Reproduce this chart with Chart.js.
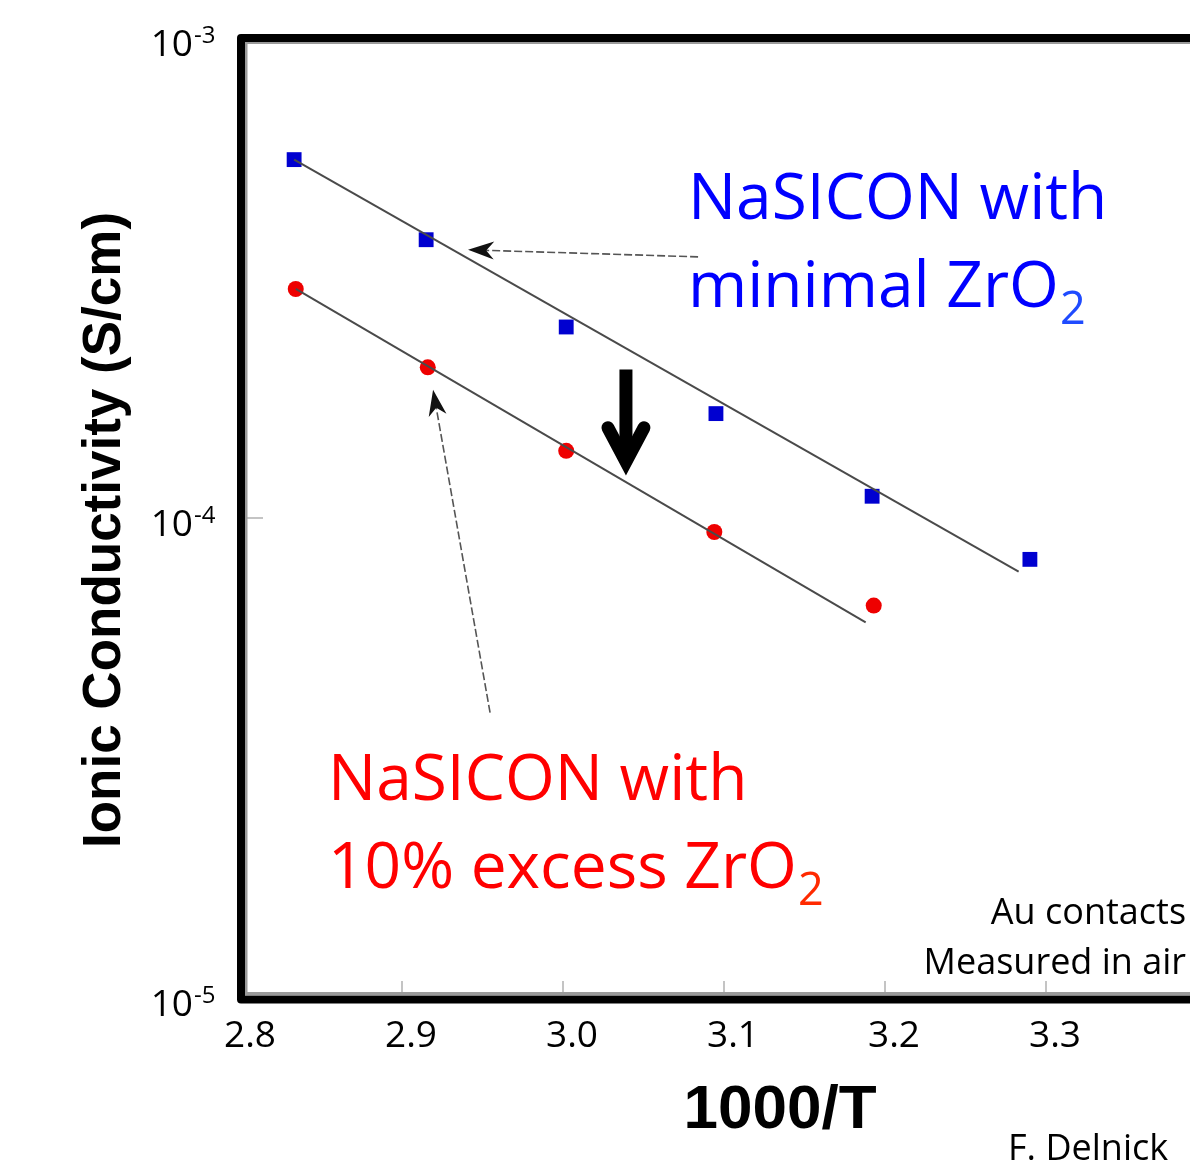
<!DOCTYPE html>
<html>
<head>
<meta charset="utf-8">
<script src="https://cdn.jsdelivr.net/npm/chart.js@4/dist/chart.umd.min.js"></script>
<style>
  html, body { margin: 0; padding: 0; background: #fff; overflow: hidden; width: 1190px; height: 1162px; }
  canvas { display: block; }
</style>
</head>
<body>
<canvas id="arrhenius" width="1250" height="1162"></canvas>
<script>
// 1000/T and ionic conductivity (S/cm)
const xMinimal = [2.833, 2.915, 3.002, 3.095, 3.192, 3.290];
const sigmaMinimal = [5.58e-4, 3.80e-4, 2.50e-4, 1.65e-4, 1.11e-4, 8.2e-5];
const xExcess = [2.834, 2.916, 3.002, 3.094, 3.193];
const sigmaExcess = [3.00e-4, 2.06e-4, 1.38e-4, 9.35e-5, 6.57e-5];

// end points of the two fitted lines
const fitMinimalX = [2.833, 3.283];
const fitMinimal = [5.58e-4, 7.73e-5];
const fitExcessX = [2.834, 3.188];
const fitExcess = [3.00e-4, 6.06e-5];

const xTicks = [2.8, 2.9, 3.0, 3.1, 3.2, 3.3, 3.4];
const yTicks = [1e-3, 1e-4, 1e-5];
const yTickExp = ['-3', '-4', '-5'];

const FONT = '"Open Sans", "Noto Sans", sans-serif';
const BOLD = '"Liberation Sans", Arial, sans-serif';

const pts = (xs, ys) => xs.map((x, i) => ({ x: x, y: ys[i] }));

// annotations in data units
const notes = [
  { x: 3.0776, y: 4.205e-4, text: 'NaSICON with', color: '#0000ff', size: 64 },
  { x: 3.0776, y: 2.756e-4, text: 'minimal ZrO', sub: '2', color: '#0000ff', subColor: '#1f4bff', size: 64 },
  { x: 2.8540, y: 2.587e-5, text: 'NaSICON with', color: '#ff0000', size: 64 },
  { x: 2.8540, y: 1.695e-5, text: '10% excess ZrO', sub: '2', color: '#ff0000', subColor: '#ff2a00', size: 64 },
  { x: 3.387, y: 1.423e-5, text: 'Au contacts', color: '#000', size: 36, align: 'right' },
  { x: 3.387, y: 1.12e-5, text: 'Measured in air', color: '#000', size: 36, align: 'right' },
  { x: 3.2764, y: 4.6e-6, text: 'F. Delnick', color: '#000', size: 36 }
];
const thinArrows = [
  { from: [3.0839, 3.50e-4], to: [2.941, 3.62e-4] },
  { from: [2.9547, 3.93e-5], to: [2.9193, 1.85e-4] }
];
const bigArrow = { from: [3.0391, 2.04e-4], to: [3.0391, 1.285e-4] };

function arrowHead(ctx, x0, y0, x1, y1, len, half) {
  const a = Math.atan2(y1 - y0, x1 - x0);
  const bx = x1 - len * Math.cos(a), by = y1 - len * Math.sin(a);
  const nx = -Math.sin(a), ny = Math.cos(a);
  const mx = x1 - len * 0.7 * Math.cos(a), my = y1 - len * 0.7 * Math.sin(a);
  ctx.beginPath();
  ctx.moveTo(x1, y1);
  ctx.lineTo(bx + nx * half, by + ny * half);
  ctx.lineTo(mx, my);
  ctx.lineTo(bx - nx * half, by - ny * half);
  ctx.closePath();
  ctx.fill();
}

const overlay = {
  id: 'overlay',
  beforeDatasetsDraw(chart) {
    const { ctx, chartArea: a, scales: { x, y } } = chart;
    ctx.save();
    // small inner ticks
    ctx.strokeStyle = '#c4c4c4';
    ctx.lineWidth = 2;
    xTicks.forEach(t => {
      const px = x.getPixelForValue(t);
      ctx.beginPath(); ctx.moveTo(px, a.bottom - 6); ctx.lineTo(px, a.bottom - 17); ctx.stroke();
    });
    const p4 = y.getPixelForValue(1e-4);
    ctx.beginPath(); ctx.moveTo(a.left + 6, p4); ctx.lineTo(a.left + 22, p4); ctx.stroke();
    // grey inner shading of the frame
    ctx.strokeStyle = '#9a9a9a';
    ctx.lineWidth = 3;
    ctx.beginPath();
    ctx.moveTo(a.left + 5, a.top + 4); ctx.lineTo(a.left + 5, a.bottom - 3);
    ctx.moveTo(a.left + 4, a.top + 4.5); ctx.lineTo(a.right, a.top + 4.5);
    ctx.moveTo(a.left + 4, a.bottom - 4.5); ctx.lineTo(a.right, a.bottom - 4.5);
    ctx.stroke();
    // heavy frame
    ctx.strokeStyle = '#000';
    ctx.lineWidth = 8;
    ctx.lineJoin = 'round';
    ctx.strokeRect(a.left, a.top, a.right - a.left, a.bottom - a.top + 1.5);
    ctx.restore();
  },
  afterDatasetsDraw(chart) {
    const { ctx, scales: { x, y } } = chart;
    const P = (v) => [x.getPixelForValue(v[0]), y.getPixelForValue(v[1])];
    ctx.save();

    // thin pointer arrows
    thinArrows.forEach(ar => {
      const [x0, y0] = P(ar.from), [x1, y1] = P(ar.to);
      ctx.strokeStyle = '#555';
      ctx.lineWidth = 1.6;
      ctx.setLineDash([8, 3]);
      ctx.beginPath(); ctx.moveTo(x0, y0); ctx.lineTo(x1 + (x0 - x1) * 0.05, y1 + (y0 - y1) * 0.05); ctx.stroke();
      ctx.setLineDash([]);
      ctx.fillStyle = '#111';
      arrowHead(ctx, x0, y0, x1, y1, 26, 9);
    });

    // thick downward arrow
    const [bx0, by0] = P(bigArrow.from), [bx1, by1] = P(bigArrow.to);
    ctx.strokeStyle = '#000';
    ctx.lineWidth = 13;
    ctx.lineCap = 'butt';
    ctx.beginPath(); ctx.moveTo(bx0, by0); ctx.lineTo(bx1, by1 - 4); ctx.stroke();
    ctx.lineCap = 'round';
    ctx.lineJoin = 'miter';
    ctx.beginPath(); ctx.moveTo(bx1 - 18, by1 - 38); ctx.lineTo(bx1, by1 - 4); ctx.lineTo(bx1 + 18, by1 - 38); ctx.stroke();

    // text notes
    notes.forEach(n => {
      const [px, py] = P([n.x, n.y]);
      ctx.font = `${n.size}px ${FONT}`;
      ctx.fillStyle = n.color;
      ctx.textBaseline = 'alphabetic';
      ctx.textAlign = n.align || 'left';
      ctx.fillText(n.text, px, py);
      if (n.sub) {
        const w = ctx.measureText(n.text).width;
        ctx.font = `${Math.round(n.size * 0.7)}px ${FONT}`;
        ctx.fillStyle = n.subColor;
        ctx.textAlign = 'left';
        ctx.fillText(n.sub, px + w + 1, py + 17);
      }
    });
    ctx.restore();
  },
  afterDraw(chart) {
    const { ctx, chartArea: a, scales: { y } } = chart;
    ctx.save();
    ctx.fillStyle = '#000';
    ctx.textBaseline = 'alphabetic';
    // y tick labels with superscript exponents
    yTicks.forEach((v, i) => {
      const py = y.getPixelForValue(v);
      ctx.font = `37px ${FONT}`;
      ctx.textAlign = 'right';
      ctx.fillText('10', a.left - 48, py + 18);
      ctx.font = `24px ${FONT}`;
      ctx.textAlign = 'left';
      ctx.fillText(yTickExp[i], a.left - 47, py + 5);
    });
    // axis titles
    ctx.font = `bold 62px ${BOLD}`;
    ctx.textAlign = 'center';
    ctx.fillText('1000/T', 780, 1128);
    ctx.translate(120, 530);
    ctx.rotate(-Math.PI / 2);
    ctx.font = `bold 53px ${BOLD}`;
    ctx.fillText('Ionic Conductivity (S/cm)', 0, 0);
    ctx.restore();
  }
};

new Chart(document.getElementById('arrhenius'), {
  type: 'scatter',
  data: {
    datasets: [
      {
        label: 'fit minimal',
        data: pts(fitMinimalX, fitMinimal),
        showLine: true,
        borderColor: '#4a4a4a',
        borderWidth: 2,
        pointRadius: 0,
        order: 0
      },
      {
        label: 'fit excess',
        data: pts(fitExcessX, fitExcess),
        showLine: true,
        borderColor: '#4a4a4a',
        borderWidth: 2,
        pointRadius: 0,
        order: 0
      },
      {
        label: 'NaSICON with minimal ZrO2',
        data: pts(xMinimal, sigmaMinimal),
        pointStyle: 'rect',
        pointRadius: 10.5,
        backgroundColor: '#0000d0',
        borderWidth: 0,
        order: 1
      },
      {
        label: 'NaSICON with 10% excess ZrO2',
        data: pts(xExcess, sigmaExcess),
        pointStyle: 'circle',
        pointRadius: 8,
        backgroundColor: '#ee0000',
        borderWidth: 0,
        order: 1
      }
    ]
  },
  options: {
    responsive: false,
    animation: false,
    layout: { padding: { top: 38, left: 0, right: 43, bottom: 0 } },
    plugins: {
      legend: { display: false },
      tooltip: { enabled: false }
    },
    scales: {
      x: {
        type: 'linear',
        min: 2.8,
        max: 3.4,
        afterBuildTicks: (s) => { s.ticks = xTicks.map(v => ({ value: v })); },
        afterFit: (s) => { s.height = 164; },
        grid: { display: false, drawTicks: false },
        border: { display: false },
        ticks: {
          color: '#000',
          font: { family: '"Open Sans"', size: 37 },
          padding: 16,
          labelOffset: 9,
          maxRotation: 0,
          callback: (v) => v.toFixed(1)
        }
      },
      y: {
        type: 'logarithmic',
        min: 1e-5,
        max: 1e-3,
        afterFit: (s) => { s.width = 241; },
        grid: { display: false },
        border: { display: false },
        ticks: { display: false }
      }
    }
  },
  plugins: [overlay]
});
</script>
</body>
</html>
